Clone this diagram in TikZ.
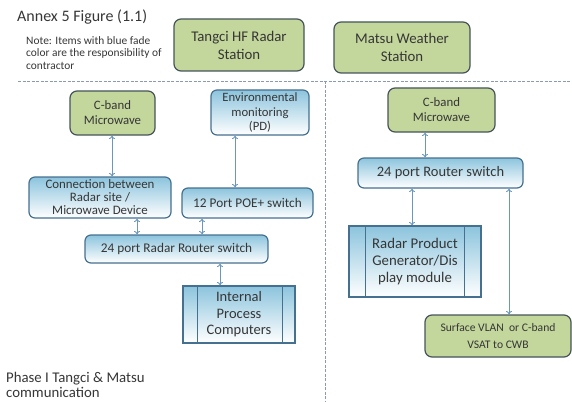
\documentclass[tikz,border=0pt]{standalone}
\usepackage{fontspec}
\setmainfont{Carlito}
\usetikzlibrary{arrows.meta,calc}
\definecolor{gfill}{HTML}{C3D69B}
\definecolor{gline}{HTML}{46545A}
\definecolor{btop}{HTML}{8CC4DD}
\definecolor{bline}{HTML}{46708F}
\definecolor{arrc}{HTML}{6A96C0}
\definecolor{txt}{HTML}{363636}
\definecolor{dashc}{HTML}{8A9BB0}
\begin{document}
\begin{tikzpicture}[x=1pt,y=-1pt,
  greenbox/.style={draw=gline,line width=1.2pt,fill=gfill,rounded corners=7pt,inner sep=0pt,align=center,text=txt},
  bluebox/.style={draw=bline,line width=1.2pt,top color=btop,bottom color=white,rounded corners=6pt,inner sep=0pt,align=center,text=txt},
  procbox/.style={draw=bline,line width=1.2pt,top color=btop,bottom color=white,inner sep=0pt,align=center,text=txt},
  arr/.style={draw=arrc,line width=0.9pt,{To[length=3.5pt,width=6pt]}-{To[length=3.5pt,width=6pt]}},
  sep/.style={draw=dashc,line width=0.9pt,dash pattern=on 3pt off 1.5pt}]
\useasboundingbox (0,0) rectangle (572,401);
% header texts
\node[anchor=west,inner sep=0pt,text=txt,font=\fontsize{16}{18}\selectfont] (title) at (17,17) {Annex 5 Figure (1.1)};
\node[anchor=north west,inner sep=0pt,align=left,text=txt,font=\fontsize{11.4}{12.5}\selectfont] (note) at (26,36) {Note: Items with blue fade\\color are the responsibility of\\contractor};
\node[greenbox,minimum width=130pt,minimum height=52pt,font=\fontsize{14.8}{18}\selectfont] (tangci) at (239,45) {Tangci HF Radar\\Station};
\node[greenbox,minimum width=136pt,minimum height=51pt,font=\fontsize{14.8}{18}\selectfont] (matsu) at (402,47.5) {Matsu Weather\\Station};
% separators
\coordinate (hl) at (18,81);
\coordinate (hr) at (572,81);
\coordinate (vt) at (325,81);
\coordinate (vb) at (325,401);
\draw[sep] (hl) -- (hr);
\draw[sep] (vt) -- (vb);
% left part
\node[greenbox,minimum width=85pt,minimum height=44pt,font=\fontsize{12.8}{15}\selectfont] (cbl) at (112.5,113) {C-band\\Microwave};
\node[bluebox,minimum width=98pt,minimum height=45pt,font=\fontsize{12.7}{14.5}\selectfont] (env) at (260,112.5) {Environmental\\monitoring\\(PD)};
\node[bluebox,minimum width=142pt,minimum height=41pt,font=\fontsize{12.9}{13}\selectfont] (conn) at (100,197.5) {Connection between\\Radar site /\\Microwave Device};
\node[bluebox,minimum width=131pt,minimum height=30pt,font=\fontsize{13.3}{15}\selectfont] (poe) at (247.5,203) {12 Port POE+ switch};
\node[bluebox,minimum width=183pt,minimum height=28pt,font=\fontsize{13.3}{15}\selectfont] (rr) at (176.5,249) {24 port Radar Router switch};
\node[procbox,minimum width=112pt,minimum height=57pt,font=\fontsize{14.5}{16.5}\selectfont] (ipc) at (239,314.5) {Internal\\Process\\Computers};
\draw[bline,line width=1.2pt] ([xshift=15pt]ipc.north west) -- ([xshift=15pt]ipc.south west);
\draw[bline,line width=1.2pt] ([xshift=-13pt]ipc.north east) -- ([xshift=-13pt]ipc.south east);
\node[anchor=north west,inner sep=0pt,align=left,text=txt,font=\fontsize{14.8}{15.5}\selectfont] (phase) at (6,372) {Phase I Tangci \& Matsu\\communication};
% right part
\node[greenbox,minimum width=107pt,minimum height=44pt,font=\fontsize{12.8}{15}\selectfont] (cbr) at (441.5,110) {C-band\\Microwave};
\node[bluebox,minimum width=165pt,minimum height=30pt,font=\fontsize{14.5}{16}\selectfont] (rs) at (440.5,173) {24 port Router switch};
\node[procbox,minimum width=132pt,minimum height=71pt,font=\fontsize{14.8}{17}\selectfont] (rpg) at (415,261.5) {Radar Product\\Generator/Dis\\play module};
\draw[bline,line width=1.2pt] ([xshift=17pt]rpg.north west) -- ([xshift=17pt]rpg.south west);
\draw[bline,line width=1.2pt] ([xshift=-17pt]rpg.north east) -- ([xshift=-17pt]rpg.south east);
\node[greenbox,minimum width=146pt,minimum height=42pt,font=\fontsize{11.6}{16.5}\selectfont] (sv) at (498,336) {Surface VLAN~~or C-band\\VSAT to CWB};
% connectors
\draw[arr] ([xshift=-0.5pt]cbl.south) -- ([xshift=-0.5pt]cbl.south |- conn.north);
\draw[arr] ([xshift=-25pt]env.south) -- ([xshift=-25pt]env.south |- poe.north);
\draw[arr] ([xshift=37pt]conn.south) -- ([xshift=37pt]conn.south |- rr.north);
\draw[arr] ([xshift=-45.5pt]poe.south) -- ([xshift=-45.5pt]poe.south |- rr.north);
\draw[arr] ([xshift=43.5pt]rr.south) -- ([xshift=43.5pt]rr.south |- ipc.north);
\draw[arr] ([xshift=-16.5pt]cbr.south) -- ([xshift=-16.5pt]cbr.south |- rs.north);
\draw[arr] ([xshift=-28.5pt]rs.south) -- ([xshift=-28.5pt]rs.south |- rpg.north);
\draw[arr] ([xshift=68.5pt]rs.south) -- ([xshift=68.5pt]rs.south |- sv.north);
\end{tikzpicture}
\end{document}
